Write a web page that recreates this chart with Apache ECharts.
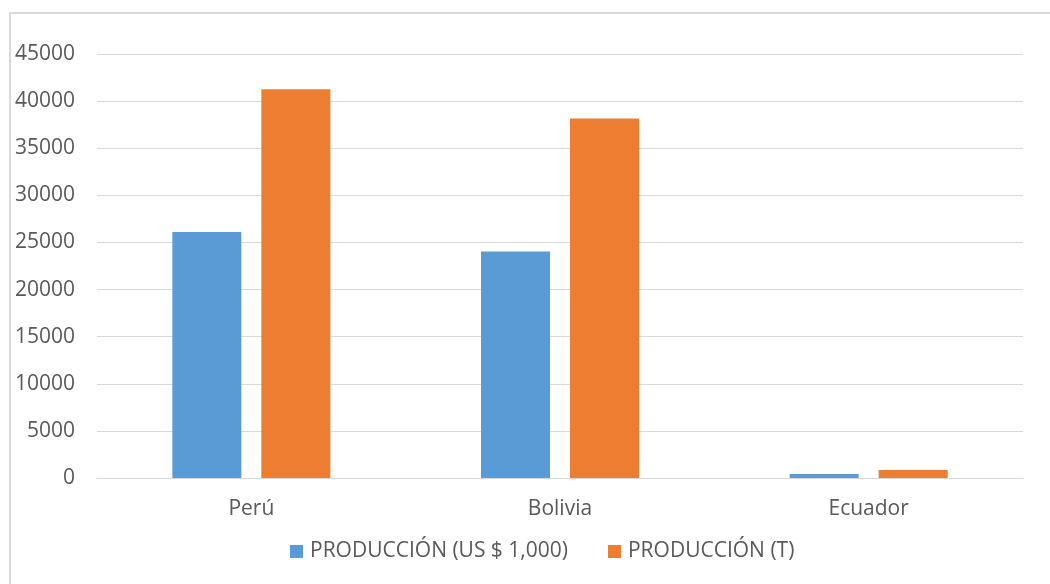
<!DOCTYPE html>
<html>
<head>
<meta charset="utf-8">
<script src="https://cdn.jsdelivr.net/npm/echarts@6/dist/echarts.min.js"></script>
<style>
html,body{margin:0;padding:0;background:#fff;}
#c{width:1050px;height:584px;}
</style>
</head>
<body>
<div id="c"></div>
<script>
const categories = ['Perú', 'Bolivia', 'Ecuador'];
const seriesNames = ['PRODUCCIÓN (US $ 1,000)', 'PRODUCCIÓN (T)'];
const valoresUS = [26100, 24050, 420];
const valoresT = [41250, 38150, 850];
const colors = ['#5b9bd5', '#ed7d31'];

const chart = echarts.init(document.getElementById('c'));
const font = '"Open Sans", "Noto Sans", sans-serif';
chart.setOption({
  animation: false,
  textStyle: { fontFamily: font },
  graphic: [{
    type: 'rect',
    shape: { x: 10, y: 13, width: 1100, height: 700 },
    style: { fill: 'none', stroke: '#d9d9d9', lineWidth: 2 },
    silent: true
  }],
  grid: { left: 97, right: 27, top: 54, bottom: 106, containLabel: false },
  legend: {
    data: seriesNames,
    bottom: 17,
    left: 285,
    itemWidth: 13,
    itemHeight: 13,
    itemGap: 40,
    icon: 'rect',
    textStyle: { color: '#595959', fontSize: 21, fontFamily: font, padding: [0, 0, 0, 2] }
  },
  xAxis: {
    type: 'category',
    data: categories,
    axisLine: { show: true, lineStyle: { color: '#d9d9d9', width: 1 } },
    axisTick: { show: false },
    axisLabel: { color: '#595959', fontSize: 21, margin: 21, fontFamily: font }
  },
  yAxis: {
    type: 'value',
    min: 0,
    max: 45000,
    interval: 5000,
    axisLine: { show: false },
    axisTick: { show: false },
    splitLine: { lineStyle: { color: '#d9d9d9', width: 1 } },
    axisLabel: { color: '#595959', fontSize: 21, margin: 22, fontFamily: font, formatter: function (v) { return String(v); } }
  },
  series: [
    { name: seriesNames[0], type: 'bar', data: valoresUS, itemStyle: { color: colors[0] }, barWidth: 69, barGap: '29%' },
    { name: seriesNames[1], type: 'bar', data: valoresT, itemStyle: { color: colors[1] }, barWidth: 69, barGap: '29%' }
  ]
});
</script>
</body>
</html>
